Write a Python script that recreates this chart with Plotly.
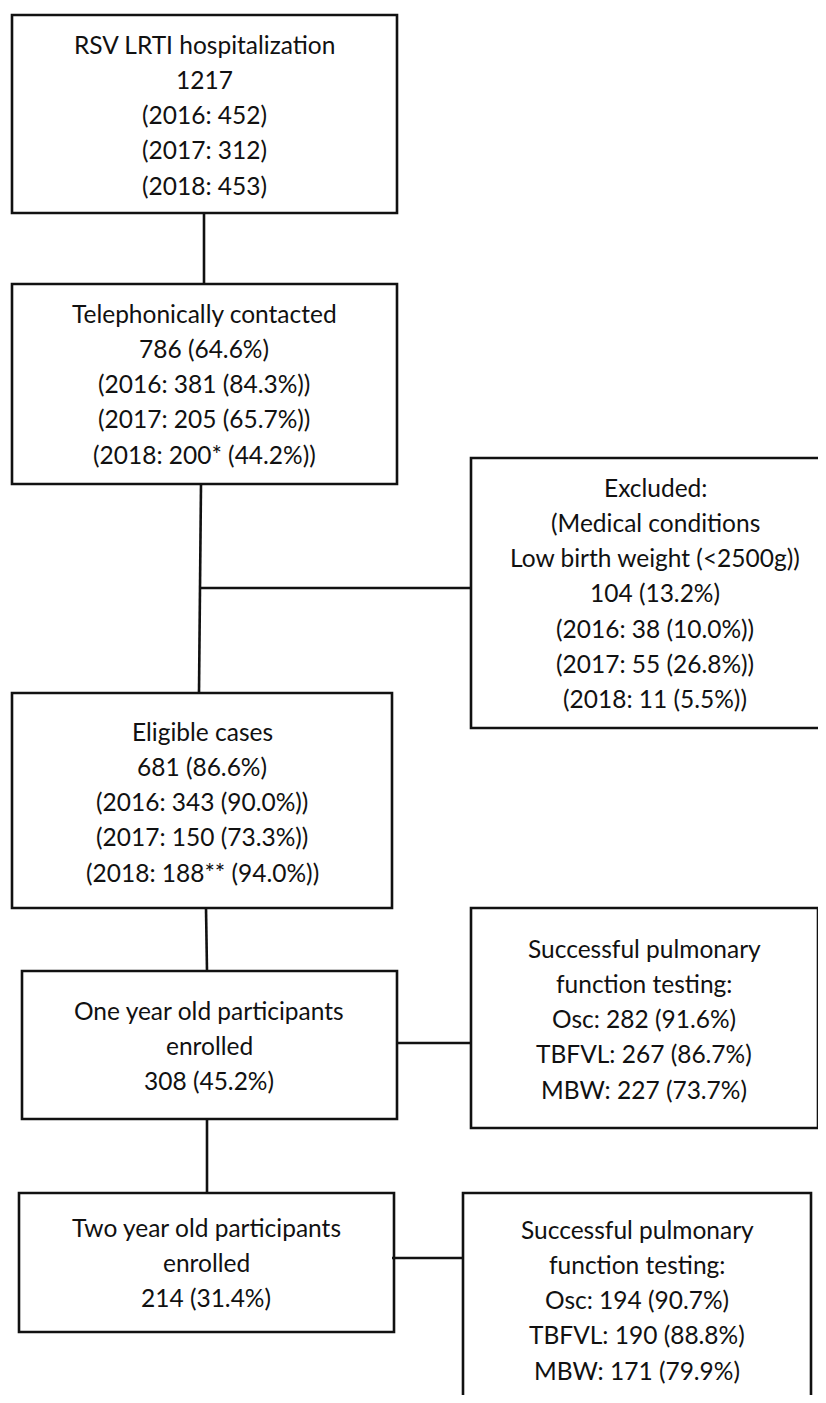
import plotly.graph_objects as go

# ---- text content (data) ----
hosp_lines = ["RSV LRTI hospitalization", "1217", "(2016: 452)", "(2017: 312)", "(2018: 453)"]
contact_lines = ["Telephonically contacted", "786 (64.6%)", "(2016: 381 (84.3%))",
                 "(2017: 205 (65.7%))", "(2018: 200* (44.2%))"]
excluded_lines = ["Excluded:", "(Medical conditions", "Low birth weight (<2500g))", "104 (13.2%)",
                  "(2016: 38 (10.0%))", "(2017: 55 (26.8%))", "(2018: 11 (5.5%))"]
eligible_lines = ["Eligible cases", "681 (86.6%)", "(2016: 343 (90.0%))",
                  "(2017: 150 (73.3%))", "(2018: 188** (94.0%))"]
one_year_lines = ["One year old participants", "enrolled", "308 (45.2%)"]
pft1_lines = ["Successful pulmonary", "function testing:", "Osc: 282 (91.6%)",
              "TBFVL: 267 (86.7%)", "MBW: 227 (73.7%)"]
two_year_lines = ["Two year old participants", "enrolled", "214 (31.4%)"]
pft2_lines = ["Successful pulmonary", "function testing:", "Osc: 194 (90.7%)",
              "TBFVL: 190 (88.8%)", "MBW: 171 (79.9%)"]

# page is 826x1403; the html body keeps an 8px margin, so the figure
# covers page pixels 8..818 x 8..1395 and the axes are mapped to page pixels
PAGE_W, PAGE_H = 826, 1403
M = 8
X_LO, X_HI = M, PAGE_W - M
Y_LO, Y_HI = M, PAGE_H - M
LINE_STEP = 35.3

# each node: (lines, x0, y0, x1, y1, text_x, first_line_y, open_side)
nodes = [
    (hosp_lines, 12, 15, 397, 213, 204, 44, None),
    (contact_lines, 12, 284, 397, 484, 204, 313, None),
    (excluded_lines, 471, 458, X_HI, 728, 655, 487, "right"),
    (eligible_lines, 12, 693, 392, 908, 202, 731, None),
    (one_year_lines, 22, 971, 397, 1119, 209, 1010, None),
    (pft1_lines, 471, 908, 819, 1128, 644, 948, None),
    (two_year_lines, 19, 1193, 394, 1332, 206, 1227, None),
    (pft2_lines, 463, 1193, 811, Y_HI, 637, 1229, "bottom"),
]

connectors = [
    (204, 213, 204, 284),
    (201, 484, 199, 693),
    (200, 588, 471, 588),
    (206, 908, 207, 971),
    (397, 1043, 471, 1043),
    (207, 1119, 207, 1193),
    (392, 1258, 463, 1258),
]

LW = 2.6
COL = "#111111"

fig = go.Figure()
shapes = []
annotations = []

for lines, x0, y0, x1, y1, tx, ty, open_side in nodes:
    x1c = min(x1, X_HI)
    if open_side == "right":
        path = f"M {X_HI},{y0} L {x0},{y0} L {x0},{y1} L {X_HI},{y1}"
    elif open_side == "bottom":
        path = f"M {x0},{Y_HI} L {x0},{y0} L {x1c},{y0} L {x1c},{Y_HI}"
    else:
        path = f"M {x0},{y0} L {x1c},{y0} L {x1c},{y1} L {x0},{y1} Z"
    shapes.append(dict(type="path", path=path, xref="x", yref="y",
                       line=dict(color=COL, width=LW), fillcolor="rgba(0,0,0,0)"))
    for i, t in enumerate(lines):
        annotations.append(dict(x=tx, y=ty + i * LINE_STEP, xref="x", yref="y", text=t,
                                showarrow=False, xanchor="center", yanchor="middle",
                                font=dict(family="Lato", size=24.5, color=COL)))

for xa, ya, xb, yb in connectors:
    shapes.append(dict(type="line", x0=xa, y0=ya, x1=xb, y1=yb, xref="x", yref="y",
                       line=dict(color=COL, width=LW)))

fig.update_layout(
    width=X_HI - X_LO, height=Y_HI - Y_LO,
    margin=dict(l=0, r=0, t=0, b=0),
    paper_bgcolor="white", plot_bgcolor="white",
    xaxis=dict(range=[X_LO, X_HI], visible=False, fixedrange=True),
    yaxis=dict(range=[Y_HI, Y_LO], visible=False, fixedrange=True),
    shapes=shapes, annotations=annotations, showlegend=False,
)

fig.write_html("out.html")
